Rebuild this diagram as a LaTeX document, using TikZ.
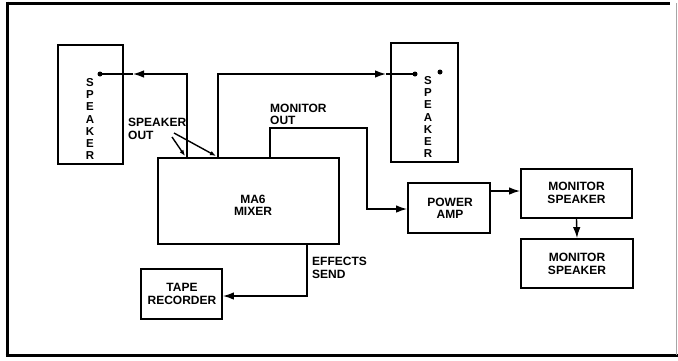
\documentclass[tikz,border=0pt]{standalone}
\usepackage{fontspec}
\setmainfont{Liberation Sans}
\usetikzlibrary{arrows.meta}
\begin{document}
\begin{tikzpicture}[x=1pt,y=-1pt,
  box/.style={draw=black,line width=1.8pt,inner sep=0pt,fill=white},
  lbl/.style={font=\bfseries\fontsize{12}{12.3}\selectfont,inner sep=0pt,align=center},
  llbl/.style={font=\bfseries\fontsize{12}{12.3}\selectfont,inner sep=0pt,align=left,anchor=west},
  vlbl/.style={font=\bfseries\fontsize{11.5}{12.2}\selectfont,inner sep=0pt,align=center},
  conn/.style={draw=black,line width=1.4pt},
  tip/.style={-{Latex[length=11pt,width=7.5pt]}},
  stip/.style={-{Latex[length=6pt,width=4.5pt]}},
  framel/.style={draw=black,line width=3pt}]
\useasboundingbox (0,0) rectangle (678,360);
\fill[white] (0,0) rectangle (678,360);
% frame
\draw[framel] (7,3) -- (670,3);
\draw[framel] (7,1.5) -- (7,356.5);
\draw[framel] (5.5,355) -- (678,355);
\draw[black!35,line width=1pt] (676,3) -- (676,355);
% boxes
\node[box,minimum width=65pt,minimum height=119pt] (spkL) at (90.5,104.5) {};
\node[vlbl] (spkLt) at (90,119) {S\\P\\E\\A\\K\\E\\R};
\node[box,minimum width=67pt,minimum height=119pt] (spkR) at (424.5,102.5) {};
\node[vlbl] (spkRt) at (428,117) {S\\P\\E\\A\\K\\E\\R};
\node[box,minimum width=181pt,minimum height=86pt] (mixer) at (248.5,201) {};
\node[lbl] (mixert) at (253,205) {MA6\\MIXER};
\node[box,minimum width=82pt,minimum height=50pt] (amp) at (449,208) {};
\node[lbl] (ampt) at (450,208.5) {POWER\\AMP};
\node[box,minimum width=111pt,minimum height=49pt] (ms1) at (576.5,193.5) {};
\node[lbl] (ms1t) at (576.5,193) {MONITOR\\SPEAKER};
\node[box,minimum width=112pt,minimum height=49pt] (ms2) at (577,263.5) {};
\node[lbl] (ms2t) at (577,264) {MONITOR\\SPEAKER};
\node[box,minimum width=81pt,minimum height=50pt] (tape) at (181.5,294) {};
\node[lbl] (tapet) at (182,294) {TAPE\\RECORDER};
% labels
\node[llbl] (spkout) at (128,129) {SPEAKER\\OUT};
\node[llbl] (monout) at (270,114.5) {MONITOR\\OUT};
\node[llbl] (effsend) at (312,268) {EFFECTS\\SEND};
% coordinates
\coordinate (dotL) at (100,74);
\coordinate (jL) at (187,74);
\coordinate (aL) at (133,74);
\coordinate (jR) at (218,74);
\coordinate (aR) at (386,74);
\coordinate (dotR1) at (415,74);
\coordinate (dotR2) at (440,72);
\coordinate (mo1) at (270,128);
\coordinate (mo2) at (367,128);
\coordinate (am) at (367,209);
\coordinate (a1) at (490,191);
\coordinate (es) at (307,296);
\coordinate (so1s) at (172,137);
\coordinate (so1e) at (185,156);
\coordinate (so2s) at (174,133);
\coordinate (so2e) at (216,156);
% connectors
\draw[conn,tip] (mixer.north -| jL) -- (jL) -- (aL);
\draw[conn] (aL) -- (dotL);
\fill (dotL) circle (2.5pt);
\draw[conn,tip] (mixer.north -| jR) -- (jR) -- (aR);
\draw[conn] (aR) -- (dotR1);
\fill (dotR1) circle (2.5pt);
\fill (dotR2) circle (2.5pt);
\draw[conn,tip] (mixer.north -| mo1) -- (mo1) -- (mo2) -- (am) -- (amp.west |- am);
\draw[conn,tip] (amp.east |- a1) -- (ms1.west |- a1);
\draw[conn,tip] (ms1.south) -- (ms2.north);
\draw[conn,tip] (mixer.south -| es) -- (es) -- (tape.east |- es);
\draw[conn,stip] (so1s) -- (so1e);
\draw[conn,stip] (so2s) -- (so2e);
\end{tikzpicture}
\end{document}
